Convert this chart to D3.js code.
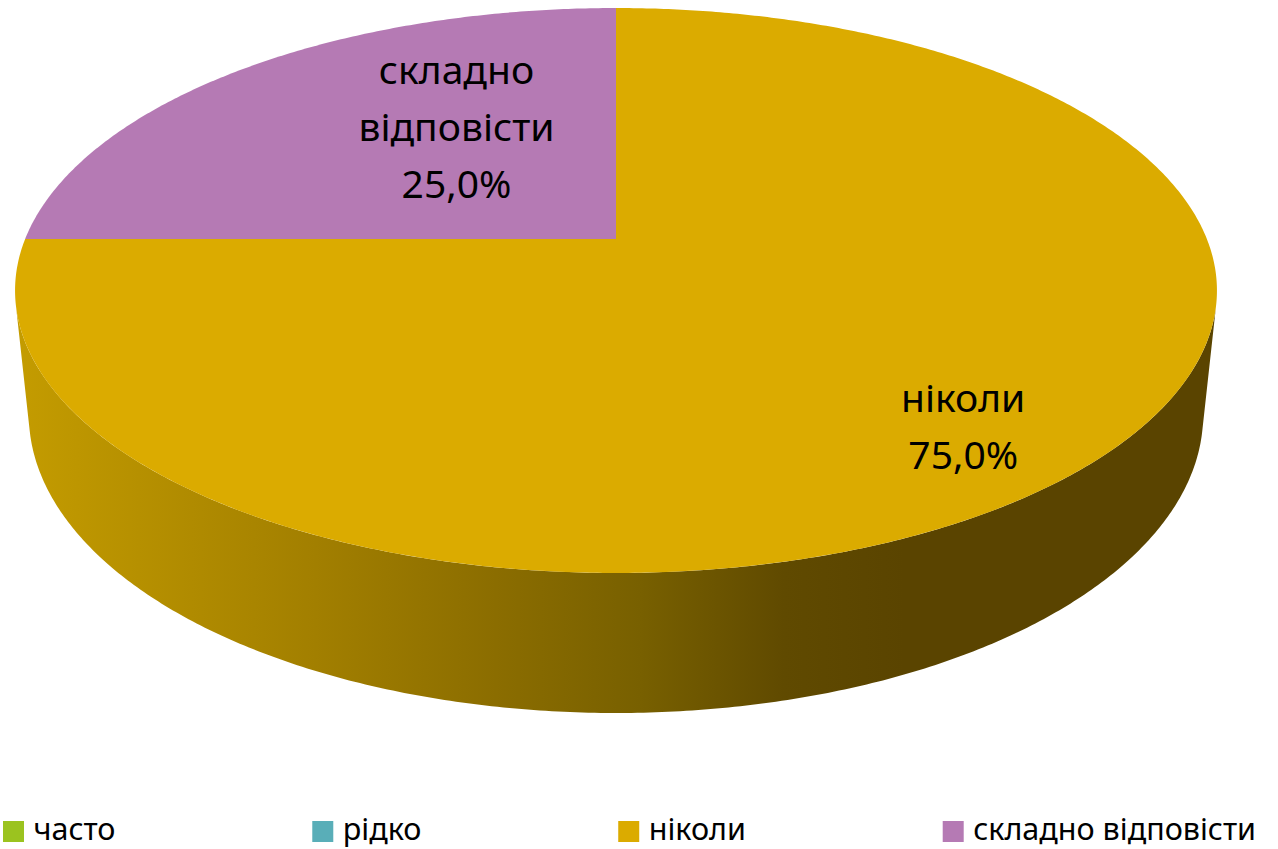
<!DOCTYPE html>
<html>
<head>
<meta charset="utf-8">
<script src="https://cdn.jsdelivr.net/npm/d3@7"></script>
<style>
    body { margin: 0; background: #fff; }
    svg { display: block; }
</style>
</head>
<body>
<div id="chart"></div>
<script>
// data
var categories = ["часто", "рідко", "ніколи", "складно відповісти"];
var values = [0, 0, 75, 25];
var colors = ["#9bc31f", "#59aeb8", "#dbab00", "#b57ab4"];

(function () {
    var width = 1278,
        height = 849;

    // 3d camera for the tilted disk (radius = 1)
    var cx = 616, cy = 239,
        focal = 2874,
        alpha = Math.asin(0.4622),
        d0 = 4.864,
        depth = 0.239;

    function project(u, v, y) {
        var d = d0 - Math.sin(alpha) * y + Math.cos(alpha) * v;
        var e = Math.cos(alpha) * y + Math.sin(alpha) * v;
        return [cx + focal * u / d, cy - focal * e / d];
    }

    function rim(a, y, r) {
        r = r === undefined ? 1 : r;
        return project(r * Math.sin(a), r * Math.cos(a), y);
    }

    function sample(a0, a1) {
        var n = Math.max(2, Math.ceil(Math.abs(a1 - a0) / (Math.PI / 360)));
        return d3.range(n + 1).map(function (i) { return a0 + (a1 - a0) * i / n; });
    }

    var pie = d3.pie().sort(null).value(function (d) { return d.value; });
    var data = categories.map(function (c, i) {
        return {name: c, value: values[i], color: colors[i]};
    });
    var arcs = pie(data);
    var total = d3.sum(values);
    var pct = d3.format(".1f");

    var svg = d3.select("#chart")
        .append("svg")
        .attr("width", width)
        .attr("height", height);

    var defs = svg.append("defs");
    var grad = defs.append("linearGradient")
        .attr("id", "side-shade")
        .attr("gradientUnits", "userSpaceOnUse")
        .attr("x1", 15).attr("x2", 1217)
        .attr("y1", 0).attr("y2", 0);
    [[0, "#c49c00"], [0.25, "#a27f00"], [0.4, "#8b6d00"], [0.52, "#786000"],
        [0.64, "#604a00"], [0.74, "#5a4400"], [1, "#5a4400"]].forEach(function (s) {
        grad.append("stop").attr("offset", s[0]).attr("stop-color", s[1]);
    });

    var line = d3.line();

    // visible part of the outer wall
    var Zc = -d0 * Math.cos(alpha);
    var visA = Math.acos(1 / Zc), visB = 2 * Math.PI - visA;

    var sides = svg.append("g").attr("class", "sides");
    arcs.forEach(function (a) {
        if (a.value <= 0) return;
        var s = Math.max(a.startAngle, visA), e = Math.min(a.endAngle, visB);
        if (e <= s) return;
        var angs = sample(s, e);
        var pts = angs.map(function (t) { return rim(t, 0); })
            .concat(angs.slice().reverse().map(function (t) { return rim(t, -depth); }));
        sides.append("path")
            .attr("d", line(pts) + "Z")
            .attr("fill", "url(#side-shade)");
    });

    // top faces
    var tops = svg.append("g").attr("class", "tops");
    arcs.forEach(function (a) {
        if (a.value <= 0) return;
        var pts = [project(0, 0, 0)].concat(sample(a.startAngle, a.endAngle).map(function (t) {
            return rim(t, 0);
        }));
        tops.append("path")
            .attr("d", line(pts) + "Z")
            .attr("fill", a.data.color);
    });

    // data labels: nudge from mid angle (degrees) and radius on the disk
    var labelPlace = {2: [4.5, 0.804], 3: [11.6, 0.53]};
    var fontFamily = "'Noto Sans', 'Open Sans', sans-serif";
    var lineH = 57;
    var labels = svg.append("g").attr("class", "labels");
    arcs.forEach(function (a, i) {
        if (a.value <= 0) return;
        var lp = labelPlace[i] || [0, 0.6];
        var mid = (a.startAngle + a.endAngle) / 2 + lp[0] * Math.PI / 180;
        var p = rim(mid, 0, lp[1]);
        var lines = a.data.name.split(" ").concat([pct(a.value / total * 100).replace(".", ",") + "%"]);
        var t = labels.append("text")
            .attr("x", p[0])
            .attr("y", p[1])
            .attr("text-anchor", "middle")
            .style("font-family", fontFamily)
            .style("font-size", "39px")
            .style("fill", "#000");
        var off = (lines.length - 1) / 2;
        lines.forEach(function (l, j) {
            t.append("tspan")
                .attr("x", p[0])
                .attr("y", p[1] + (j - off) * lineH + 14)
                .text(l);
        });
    });

    // legend
    var legend = svg.append("g").attr("class", "legend");
    var items = legend.selectAll("g")
        .data(data)
        .enter().append("g");
    items.append("rect")
        .attr("y", 821)
        .attr("width", 21)
        .attr("height", 21)
        .attr("fill", function (d) { return d.color; });
    items.append("text")
        .attr("x", 30.5)
        .attr("y", 840)
        .style("font-family", fontFamily)
        .style("font-size", "30.5px")
        .style("fill", "#000")
        .text(function (d) { return d.name; });

    var widths = [];
    items.select("text").each(function () {
        widths.push(30.5 + this.getComputedTextLength());
    });
    var left = 3, right = 1256;
    var gap = (right - left - d3.sum(widths)) / (widths.length - 1);
    var x = left;
    items.attr("transform", function (d, i) {
        var tx = x;
        x += widths[i] + gap;
        return "translate(" + tx + ",0)";
    });
})();
</script>
</body>
</html>
